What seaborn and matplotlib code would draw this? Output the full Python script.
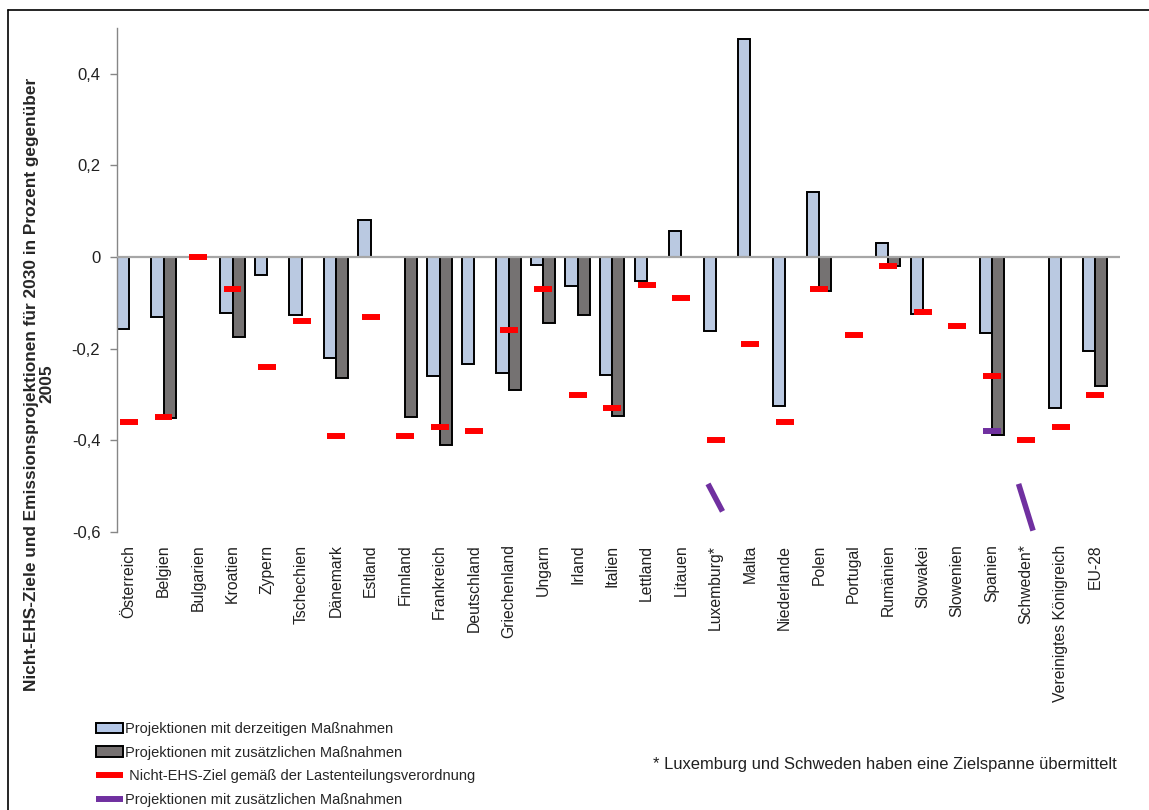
import matplotlib
matplotlib.use("Agg")
import matplotlib.pyplot as plt
from matplotlib.lines import Line2D
from matplotlib.patches import Patch
import numpy as np
import pandas as pd
import seaborn as sns

nan = np.nan

laender = ["Österreich", "Belgien", "Bulgarien", "Kroatien", "Zypern", "Tschechien",
           "Dänemark", "Estland", "Finnland", "Frankreich", "Deutschland", "Griechenland",
           "Ungarn", "Irland", "Italien", "Lettland", "Litauen", "Luxemburg*", "Malta",
           "Niederlande", "Polen", "Portugal", "Rumänien", "Slowakei", "Slowenien",
           "Spanien", "Schweden*", "Vereinigtes Königreich", "EU-28"]

# Projektionen mit derzeitigen Maßnahmen
derzeitig = [-0.158, -0.131, nan, -0.121, -0.039, -0.126, -0.220, 0.080, nan, -0.260,
             -0.233, -0.254, -0.018, -0.063, -0.258, -0.052, 0.056, -0.162, 0.477,
             -0.324, 0.141, nan, 0.031, -0.124, nan, -0.165, nan, -0.330, -0.206]

# Projektionen mit zusätzlichen Maßnahmen
zusaetzlich = [nan, -0.351, nan, -0.175, nan, nan, -0.263, nan, -0.349, -0.410,
               nan, -0.290, -0.143, -0.126, -0.346, nan, nan, nan, nan,
               nan, -0.074, nan, -0.020, nan, nan, -0.388, nan, nan, -0.282]

# Nicht-EHS-Ziel
ziel = [-0.36, -0.35, 0.00, -0.07, -0.24, -0.14, -0.39, -0.13, -0.39, -0.37,
        -0.38, -0.16, -0.07, -0.30, -0.33, -0.06, -0.09, -0.40, -0.19,
        -0.36, -0.07, -0.17, -0.02, -0.12, -0.15, -0.26, -0.40, -0.37, -0.30]

# lila Markierungen
lila_punkt = {"Spanien": -0.38}
lila_spanne = {"Luxemburg*": (-0.495, -0.555), "Schweden*": (-0.495, -0.597)}

lab_derz = "Projektionen mit derzeitigen Maßnahmen"
lab_zus = "Projektionen mit zusätzlichen Maßnahmen"
lab_ziel = " Nicht-EHS-Ziel gemäß der Lastenteilungsverordnung"
lab_lila = "Projektionen mit zusätzlichen Maßnahmen"

ytick_werte = [-0.6, -0.4, -0.2, 0, 0.2, 0.4]
ytick_text = ["-0,6", "-0,4", "-0,2", "0", "0,2", "0,4"]

blau = "#B4C7E7"
grau = "#767171"
rot = "#FF0000"
lila = "#7030A0"

df = pd.DataFrame({
    "Land": laender * 2,
    "Wert": derzeitig + zusaetzlich,
    "Szenario": [lab_derz] * len(laender) + [lab_zus] * len(laender),
})

sns.set_theme(style="white")
plt.rcParams["font.family"] = ["Liberation Sans", "DejaVu Sans"]

fig = plt.figure(figsize=(11.49, 8.10), dpi=100)
ax = fig.add_axes([117 / 1149, 278 / 810, 1003 / 1149, 504 / 810])

sns.barplot(data=df, x="Land", y="Wert", hue="Szenario", order=laender,
            hue_order=[lab_derz, lab_zus], palette=[blau, grau], width=0.7,
            edgecolor="black", linewidth=1.4, errorbar=None, legend=False,
            ax=ax, zorder=2)

ax.axhline(0, color="#A6A6A6", lw=1.6, zorder=3)

pos = np.arange(len(laender))
ax.hlines(ziel, pos - 0.26, pos + 0.26, color=rot, lw=4.3, zorder=4)

for land, wert in lila_punkt.items():
    i = laender.index(land)
    ax.hlines(wert, i - 0.26, i + 0.26, color=lila, lw=4.3, zorder=4)

for land, (oben, unten) in lila_spanne.items():
    i = laender.index(land)
    ax.plot([i - 0.22, i + 0.2], [oben, unten], color=lila, lw=4,
            solid_capstyle="butt", zorder=4)

ax.set_xlim(-0.348, 28.72)
ax.set_ylim(-0.6, 0.5)
ax.set_yticks(ytick_werte)
ax.set_yticklabels(ytick_text)
ax.set_xlabel("")
ax.set_ylabel("")

for s in ["top", "right", "bottom"]:
    ax.spines[s].set_visible(False)
ax.spines["left"].set_color("#868686")
ax.spines["left"].set_linewidth(1)

ax.tick_params(axis="y", direction="out", left=True, length=5, width=1,
               color="#868686", pad=7, labelsize=12, labelcolor="#202020")
ax.tick_params(axis="x", length=0, pad=9, labelsize=11.3, rotation=90,
               labelcolor="#202020")

fig.text(39 / 1149, 1 - 384 / 810,
         "Nicht-EHS-Ziele und Emissionsprojektionen für 2030 in Prozent gegenüber\n2005",
         rotation=90, ha="center", va="center", multialignment="center",
         fontsize=12.4, fontweight="bold", linespacing=1.02)

handles = [
    Patch(facecolor=blau, edgecolor="black", linewidth=1.4),
    Patch(facecolor=grau, edgecolor="black", linewidth=1.4),
    Line2D([0], [0], color=rot, lw=4.3, solid_capstyle="butt"),
    Line2D([0], [0], color=lila, lw=4.3, solid_capstyle="butt"),
]
fig.legend(handles, [lab_derz, lab_zus, lab_ziel, lab_lila], loc="upper left",
           bbox_to_anchor=(96 / 1149, 1 - 722 / 810), frameon=False,
           fontsize=10.5, handlelength=1.85, handleheight=0.7, handletextpad=0.15,
           labelspacing=0.66, borderpad=0, borderaxespad=0)

fig.text(653 / 1149, 1 - 764 / 810,
         "* Luxemburg und Schweden haben eine Zielspanne übermittelt",
         ha="left", va="center", fontsize=11.9, color="#202020")

# Rahmen links und oben
fig.add_artist(Line2D([8 / 1149, 8 / 1149], [0, 1 - 10 / 810],
                      transform=fig.transFigure, color="black", lw=1.2))
fig.add_artist(Line2D([8 / 1149, 1], [1 - 10 / 810, 1 - 10 / 810],
                      transform=fig.transFigure, color="black", lw=1.2))

fig.savefig("out.png", dpi=100)
